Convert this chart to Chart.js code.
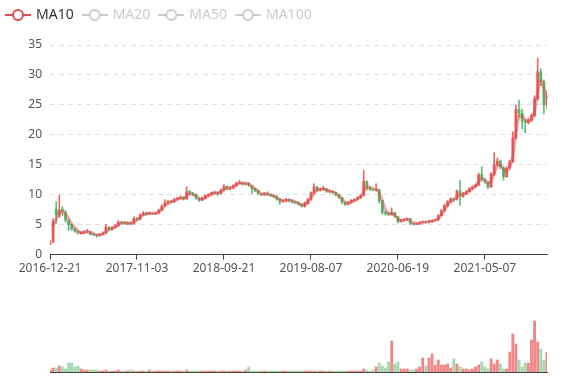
<!DOCTYPE html>
<html>
<head>
<meta charset="utf-8">
<script src="https://cdn.jsdelivr.net/npm/chart.js@4.4.1/dist/chart.umd.min.js"></script>
<style>
  html, body { margin: 0; padding: 0; background: #fff; }
  #wrap { position: relative; width: 577px; height: 380px; }
  #wrap canvas { position: absolute; left: 0; }
  #priceChart { top: 0; }
  #volChart { top: 290px; }
</style>
</head>
<body>
<div id="wrap">
  <canvas id="priceChart" width="577" height="290"></canvas>
  <canvas id="volChart" width="577" height="90"></canvas>
</div>
<script>
// each sample stands for roughly a week and a half of trading
const tickDates = ['2016-12-21', '2017-11-03', '2018-09-21', '2019-08-07', '2020-06-19', '2021-05-07'];
const tickEvery = 28;

const openPrices = [
  1.7, 2.1, 7.6, 6.6, 7.6, 7.0, 5.8, 5.0, 4.3, 3.9,
  3.5, 3.6, 3.8, 3.8, 3.4, 3.3, 3.2, 3.4, 3.6, 4.5,
  4.2, 4.5, 4.8, 5.4, 5.4, 5.1, 5.3, 5.2, 6.0, 5.9,
  6.6, 7.0, 6.8, 6.9, 6.8, 6.9, 7.4, 8.2, 8.7, 8.9,
  8.8, 9.2, 9.4, 9.6, 9.3, 10.6, 10.2, 10.0, 9.4, 9.1,
  9.4, 9.8, 10.0, 10.3, 10.4, 10.2, 10.8, 11.4, 11.0, 11.1,
  11.5, 11.9, 12.0, 11.8, 11.9, 11.5, 11.0, 10.7, 10.1, 10.0,
  10.2, 10.0, 9.9, 9.7, 9.3, 8.9, 9.0, 9.2, 9.0, 8.8,
  8.7, 8.4, 8.1, 8.6, 9.2, 10.3, 11.3, 10.8, 10.9, 11.0,
  10.5, 10.6, 10.4, 10.0, 9.5, 8.7, 8.4, 8.7, 9.0, 9.2,
  9.5, 9.9, 12.2, 11.2, 10.9, 10.8, 10.8, 9.0, 7.1, 6.9,
  6.7, 7.0, 6.3, 5.5, 5.8, 5.9, 6.0, 5.2, 5.1, 5.2,
  5.4, 5.5, 5.4, 5.5, 5.7, 5.8, 6.5, 7.3, 8.2, 8.8,
  9.3, 9.2, 10.6, 9.7, 10.2, 10.5, 11.0, 11.3, 11.6, 13.3,
  12.5, 12.1, 11.3, 13.4, 15.0, 15.6, 14.5, 13.0, 14.5, 15.5,
  19.5, 24.2, 23.6, 22.3, 22.1, 22.5, 23.2, 26.0, 30.5, 28.9, 25.0
];
const closePrices = [
  2.1, 5.5, 6.6, 7.4, 7.2, 5.8, 5.0, 4.3, 3.9, 3.6,
  3.7, 3.8, 3.9, 3.4, 3.3, 3.2, 3.4, 3.6, 4.6, 4.2,
  4.5, 4.8, 5.4, 5.3, 5.2, 5.3, 5.2, 6.0, 5.9, 6.6,
  6.9, 6.8, 6.9, 6.8, 6.9, 7.4, 8.1, 8.6, 8.9, 8.8,
  9.2, 9.4, 9.6, 9.3, 10.5, 10.2, 10.0, 9.5, 9.1, 9.4,
  9.8, 10.0, 10.3, 10.4, 10.1, 10.7, 11.4, 11.0, 11.1, 11.5,
  11.9, 12.1, 11.8, 11.9, 11.6, 11.0, 10.7, 10.2, 10.0, 10.2,
  10.1, 9.9, 9.7, 9.3, 8.9, 9.0, 9.2, 9.0, 8.8, 8.7,
  8.4, 8.1, 8.6, 9.2, 10.3, 11.3, 10.8, 10.9, 11.1, 10.6,
  10.6, 10.4, 10.0, 9.6, 8.8, 8.4, 8.7, 9.1, 9.2, 9.5,
  9.8, 12.2, 11.2, 10.9, 10.8, 10.9, 9.0, 7.1, 6.8, 6.7,
  7.0, 6.3, 5.5, 5.8, 5.9, 6.0, 5.2, 5.1, 5.2, 5.4,
  5.5, 5.4, 5.6, 5.7, 5.8, 6.5, 7.3, 8.2, 8.8, 9.3,
  9.2, 10.6, 9.7, 10.2, 10.5, 11.0, 11.3, 11.6, 13.3, 12.5,
  12.2, 11.3, 13.4, 15.0, 15.6, 14.6, 13.0, 14.4, 15.5, 19.5,
  24.2, 23.6, 22.3, 22.1, 22.5, 23.2, 26.0, 30.5, 28.9, 25.0, 26.0
];
const lowPrices = [
  1.6, 2.0, 5.2, 6.2, 6.5, 5.4, 4.0, 4.1, 3.7, 3.4,
  3.4, 3.5, 3.6, 3.3, 3.2, 2.9, 3.1, 3.3, 3.5, 4.0,
  4.1, 4.4, 4.7, 5.1, 5.1, 5.0, 5.0, 5.1, 5.6, 5.8,
  6.5, 6.6, 6.7, 6.7, 6.7, 6.8, 7.3, 8.0, 8.4, 8.6,
  8.7, 9.1, 9.3, 9.1, 9.2, 10.0, 9.8, 9.2, 8.9, 9.0,
  9.3, 9.7, 9.9, 10.1, 9.9, 10.1, 10.6, 10.8, 10.8, 11.0,
  11.4, 11.8, 11.6, 11.6, 11.4, 10.2, 10.5, 10.0, 9.8, 9.9,
  9.9, 9.7, 9.5, 9.1, 8.4, 8.7, 8.9, 8.8, 8.6, 8.5,
  8.2, 7.9, 7.9, 8.4, 9.1, 10.2, 10.5, 10.6, 10.7, 10.4,
  10.3, 10.2, 9.8, 9.4, 8.5, 8.2, 8.3, 8.6, 8.9, 9.1,
  9.4, 9.8, 10.8, 10.7, 10.7, 10.6, 8.6, 6.7, 6.6, 6.5,
  6.6, 6.2, 5.3, 5.4, 5.6, 5.7, 5.0, 4.9, 5.0, 5.1,
  5.3, 5.3, 5.3, 5.4, 5.6, 5.7, 6.4, 7.2, 8.0, 8.7,
  8.9, 9.1, 8.2, 9.6, 10.0, 10.4, 10.9, 11.2, 11.5, 12.2,
  11.9, 11.0, 11.2, 13.2, 14.8, 14.3, 12.4, 12.9, 14.3, 15.4,
  19.3, 23.0, 21.0, 20.3, 21.8, 22.2, 23.0, 25.8, 28.2, 23.5, 24.3
];
const highPrices = [
  2.3, 6.0, 8.8, 9.9, 8.0, 7.4, 5.6, 5.1, 4.4, 4.0,
  3.8, 4.0, 4.2, 3.9, 3.5, 3.4, 3.5, 3.8, 5.0, 4.7,
  4.7, 5.0, 5.7, 5.6, 5.5, 5.4, 5.5, 6.3, 6.2, 6.8,
  7.2, 7.1, 7.1, 7.0, 7.1, 7.6, 8.3, 9.2, 9.1, 9.1,
  9.4, 9.6, 9.8, 9.7, 11.3, 10.6, 10.4, 10.1, 9.5, 9.6,
  10.0, 10.2, 10.5, 10.6, 10.5, 11.0, 11.7, 11.5, 11.4, 11.7,
  12.1, 12.4, 12.1, 12.0, 12.0, 11.6, 11.1, 10.8, 10.2, 10.4,
  10.5, 10.1, 10.0, 9.8, 9.4, 9.2, 9.4, 9.3, 9.1, 8.9,
  8.8, 8.5, 8.8, 9.4, 10.5, 11.8, 11.4, 11.1, 11.4, 11.1,
  10.8, 10.7, 10.5, 10.1, 9.6, 8.8, 8.9, 9.2, 9.3, 9.7,
  10.0, 14.1, 12.3, 11.2, 11.0, 11.8, 10.9, 9.0, 7.2, 7.0,
  7.8, 7.1, 6.4, 5.9, 6.0, 6.1, 6.0, 5.3, 5.3, 5.5,
  5.6, 5.6, 5.7, 5.8, 5.9, 6.7, 7.5, 8.4, 9.0, 9.5,
  9.4, 10.8, 12.4, 10.4, 10.7, 11.2, 11.5, 11.8, 13.6, 14.7,
  12.7, 12.2, 13.7, 17.0, 16.1, 15.8, 14.6, 14.7, 15.8, 20.5,
  25.0, 25.8, 24.3, 22.6, 22.8, 23.5, 26.5, 32.8, 31.0, 29.2, 27.4
];
const ma10 = [
  null, 4.8, 6.0, 6.9, 7.2, 6.8, 6.0, 5.1, 4.5, 4.0,
  3.7, 3.7, 3.8, 3.7, 3.5, 3.3, 3.3, 3.4, 3.8, 4.2,
  4.4, 4.6, 5.0, 5.3, 5.3, 5.3, 5.2, 5.5, 5.8, 6.2,
  6.6, 6.8, 6.9, 6.9, 6.9, 7.1, 7.6, 8.2, 8.6, 8.8,
  9.0, 9.2, 9.4, 9.4, 9.8, 10.1, 10.1, 9.8, 9.4, 9.3,
  9.5, 9.8, 10.1, 10.3, 10.3, 10.5, 10.9, 11.1, 11.1, 11.3,
  11.6, 11.9, 11.9, 11.9, 11.8, 11.4, 11.0, 10.6, 10.2, 10.1,
  10.1, 10.0, 9.8, 9.5, 9.2, 9.0, 9.0, 9.1, 9.0, 8.8,
  8.6, 8.3, 8.3, 8.7, 9.4, 10.3, 10.8, 10.9, 10.9, 10.8,
  10.6, 10.5, 10.2, 9.8, 9.3, 8.8, 8.6, 8.8, 9.0, 9.3,
  9.6, 10.6, 11.2, 11.3, 11.0, 10.9, 10.3, 8.9, 7.5, 6.9,
  6.8, 6.6, 6.0, 5.7, 5.8, 5.9, 5.6, 5.3, 5.2, 5.2,
  5.4, 5.4, 5.5, 5.6, 5.7, 6.0, 6.6, 7.4, 8.2, 8.8,
  9.2, 9.7, 10.0, 10.1, 10.3, 10.7, 11.0, 11.4, 12.2, 12.7,
  12.5, 11.9, 12.3, 13.6, 14.8, 15.0, 14.3, 14.0, 14.6, 16.5,
  20.5, 23.0, 23.2, 22.5, 22.2, 22.6, 24.0, 27.0, 29.0, 27.8, 26.0
];
const volumes = [
  2, 4, 4, 6, 5, 3, 9, 9, 5, 6,
  3, 2, 2, 2, 2, 2, 1, 1, 2, 1,
  1, 1, 2, 1, 1, 1, 2, 1, 1, 1,
  1, 1, 2, 1, 1, 1, 1, 1, 1, 1,
  1, 1, 1, 1, 2, 1, 1, 1, 1, 1,
  1, 1, 1, 1, 1, 1, 1, 1, 1, 1,
  1, 1, 1, 2, 5, 1, 1, 1, 1, 1,
  1, 1, 1, 1, 1, 1, 1, 1, 1, 1,
  1, 1, 1, 1, 1, 1, 1, 1, 1, 1,
  1, 1, 1, 1, 1, 1, 1, 1, 1, 1,
  1, 3, 2, 1, 2, 5, 9, 6, 4, 10,
  31, 8, 10, 3, 3, 3, 2, 2, 3, 5,
  14, 6, 14, 18, 7, 12, 7, 7, 8, 4,
  13, 8, 5, 3, 3, 2, 3, 5, 7, 10,
  5, 3, 13, 8, 12, 8, 3, 3, 20, 38,
  28, 12, 5, 9, 9, 32, 51, 30, 23, 12, 20
];
const legendNames = ['MA10', 'MA20', 'MA50', 'MA100'];

const upColor = 'rgba(235, 84, 84, 0.9)';
const downColor = 'rgba(71, 178, 98, 0.85)';
const maColor = '#dd4f4f';

const labels = closePrices.map((c, i) => (i % tickEvery === 0 && tickDates[i / tickEvery]) || '');
const isUp = closePrices.map((c, i) => c >= openPrices[i]);
const candleColors = isUp.map(u => u ? upColor : downColor);
const volColors = isUp.map(u => u ? 'rgba(235, 84, 84, 0.7)' : 'rgba(71, 178, 98, 0.5)');

function legendIcon(color) {
  const c = document.createElement('canvas');
  c.width = 26;
  c.height = 14;
  const g = c.getContext('2d');
  g.strokeStyle = color;
  g.lineWidth = 2;
  g.beginPath();
  g.moveTo(0, 7);
  g.lineTo(26, 7);
  g.stroke();
  g.beginPath();
  g.arc(13, 7, 5, 0, Math.PI * 2);
  g.fillStyle = '#fff';
  g.fill();
  g.stroke();
  return c;
}

// push the plot down under the legend row
const legendGap = {
  id: 'legendGap',
  beforeInit(chart) {
    const fit = chart.legend.fit;
    chart.legend.fit = function () {
      fit.call(this);
      this.height += 13;
    };
  }
};

const fontFamily = '"Noto Sans", "DejaVu Sans", sans-serif';

new Chart(document.getElementById('priceChart'), {
  type: 'bar',
  data: {
    labels: labels,
    datasets: [
      {
        type: 'line',
        label: 'MA10',
        data: ma10,
        borderColor: 'rgba(221, 79, 79, 0.5)',
        borderWidth: 3,
        pointRadius: 0,
        tension: 0.3,
        order: 0
      },
      {
        label: 'wick',
        data: lowPrices.map((l, i) => [l, highPrices[i]]),
        backgroundColor: candleColors,
        barThickness: 1,
        grouped: false,
        order: 2
      },
      {
        label: 'body',
        data: openPrices.map((o, i) => [o, closePrices[i]]),
        backgroundColor: candleColors,
        barThickness: 2.2,
        grouped: false,
        order: 1
      }
    ]
  },
  plugins: [legendGap],
  options: {
    responsive: false,
    animation: false,
    layout: { padding: { left: -3, right: 30, top: -2, bottom: 12 } },
    plugins: {
      tooltip: { enabled: false },
      legend: {
        align: 'start',
        onClick: () => {},
        labels: {
          usePointStyle: true,
          pointStyleWidth: 22,
          padding: 10,
          color: '#333',
          font: { family: fontFamily, size: 14 },
          generateLabels: () => legendNames.map((name, i) => ({
            text: name,
            pointStyle: legendIcon(i === 0 ? maColor : '#ccc'),
            fontColor: i === 0 ? '#333' : '#ccc',
            hidden: false,
            lineWidth: 0,
            strokeStyle: 'transparent',
            fillStyle: 'transparent'
          }))
        }
      }
    },
    scales: {
      x: {
        offset: false,
        afterBuildTicks: (scale) => {
          scale.ticks = scale.ticks.filter(t => t.value % tickEvery === 0);
        },
        ticks: {
          autoSkip: false,
          maxRotation: 0,
          padding: 2,
          color: '#555',
          font: { family: fontFamily, size: 12 }
        },
        grid: { offset: false, drawOnChartArea: false, drawTicks: true, tickLength: 5, color: '#444' },
        border: { display: true, color: '#444', width: 1 }
      },
      y: {
        min: 0,
        max: 35,
        afterFit: (scale) => { scale.width = 53; },
        ticks: {
          stepSize: 5,
          padding: 8,
          color: '#555',
          font: { family: fontFamily, size: 12 }
        },
        grid: { color: '#e0e0e0', drawTicks: false },
        border: { display: false, dash: [5, 4] }
      }
    }
  }
});

new Chart(document.getElementById('volChart'), {
  type: 'bar',
  data: {
    labels: labels,
    datasets: [{
      label: 'Volume',
      data: volumes,
      backgroundColor: volColors,
      barThickness: 2.2
    }]
  },
  options: {
    responsive: false,
    animation: false,
    layout: { padding: { left: 50, right: 30, top: 12, bottom: 8 } },
    plugins: { legend: { display: false }, tooltip: { enabled: false } },
    scales: {
      x: {
        offset: false,
        ticks: { display: false },
        grid: { display: true, offset: false, drawOnChartArea: false, drawTicks: false },
        border: { display: true, color: '#444', width: 1 }
      },
      y: { display: false, min: 0, max: 70 }
    }
  }
});
</script>
</body>
</html>
